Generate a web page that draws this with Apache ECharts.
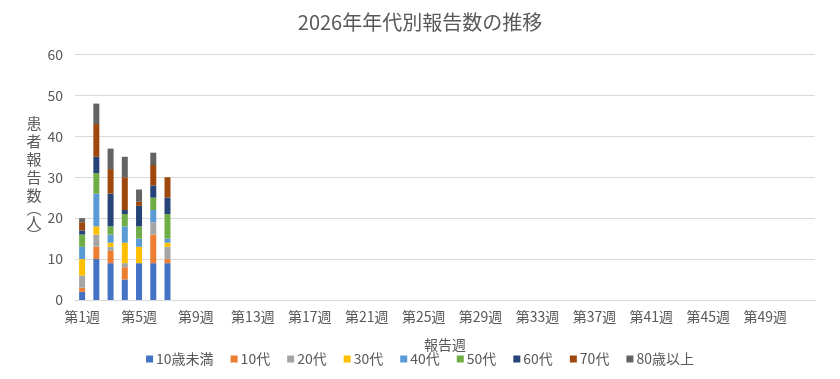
<!DOCTYPE html>
<html>
<head>
<meta charset="utf-8">
<script src="https://cdn.jsdelivr.net/npm/echarts@6/dist/echarts.min.js"></script>
<style>
html,body{margin:0;padding:0;background:#fff;}
#chart{width:840px;height:379px;}
</style>
</head>
<body>
<div id="chart"></div>
<script>
const weeks = Array.from({length: 52}, (_, i) => '第' + (i + 1) + '週');
const seriesNames = ['10歳未満', '10代', '20代', '30代', '40代', '50代', '60代', '70代', '80歳以上'];
const under10 = [2, 10, 9, 5, 9, 9, 9];
const age10s  = [1, 3, 3, 3, 0, 7, 1];
const age20s  = [3, 3, 1, 1, 0, 3, 3];
const age30s  = [4, 2, 1, 5, 4, 0, 1];
const age40s  = [3, 8, 2, 4, 2, 3, 1];
const age50s  = [3, 5, 2, 3, 3, 3, 6];
const age60s  = [1, 4, 8, 1, 5, 3, 4];
const age70s  = [2, 8, 6, 8, 1, 5, 5];
const over80  = [1, 5, 5, 5, 3, 3, 0];
const seriesValues = [under10, age10s, age20s, age30s, age40s, age50s, age60s, age70s, over80];
const colors = ['#4472C4', '#ED7D31', '#A5A5A5', '#FFC000', '#5B9BD5', '#70AD47', '#264478', '#9E480E', '#636363'];

const FONT = '"Noto Sans CJK JP", "Noto Sans", sans-serif';
const chart = echarts.init(document.getElementById('chart'), null, {renderer: 'canvas'});
chart.setOption({
  animation: false,
  color: colors,
  textStyle: {fontFamily: FONT},
  title: {
    text: '2026年年代別報告数の推移',
    left: 'center',
    top: 7,
    textStyle: {fontFamily: FONT, fontSize: 20, fontWeight: 'normal', color: '#595959'}
  },
  legend: {
    bottom: 8,
    left: 'center',
    itemWidth: 7,
    itemHeight: 7,
    itemGap: 17,
    icon: 'rect',
    textStyle: {fontFamily: FONT, fontSize: 14, color: '#595959', padding: [0, 0, 0, -2]},
    data: seriesNames
  },
  grid: {left: 75, right: 25, top: 54.5, bottom: 79, containLabel: false},
  xAxis: {
    type: 'category',
    data: weeks,
    name: '報告週',
    nameLocation: 'middle',
    nameGap: 38,
    nameTextStyle: {fontFamily: FONT, fontSize: 14, color: '#595959'},
    axisLine: {lineStyle: {color: '#D9D9D9'}},
    axisTick: {show: false},
    axisLabel: {interval: 3, fontFamily: FONT, fontSize: 14, color: '#595959', margin: 10}
  },
  yAxis: {
    type: 'value',
    min: 0, max: 60, interval: 10,
    name: '{a|患}\n{a|者}\n{a|報}\n{a|告}\n{a|数}\n{p|︵}\n{a|人}\n{p|︶}',
    nameLocation: 'middle',
    nameRotate: 0,
    nameGap: 31,
    nameTextStyle: {
      fontFamily: FONT, fontSize: 15, color: '#595959',
      rich: {
        a: {fontFamily: FONT, fontSize: 15, color: '#595959', lineHeight: 18},
        p: {fontFamily: FONT, fontSize: 15, color: '#595959', lineHeight: 9}
      }
    },
    axisLine: {show: false},
    axisTick: {show: false},
    splitLine: {lineStyle: {color: '#D9D9D9'}},
    axisLabel: {fontFamily: FONT, fontSize: 14, color: '#595959', margin: 12}
  },
  series: seriesNames.map((n, i) => ({
    name: n,
    type: 'bar',
    stack: 'total',
    barWidth: 6,
    data: seriesValues[i]
  }))
});
</script>
</body>
</html>
